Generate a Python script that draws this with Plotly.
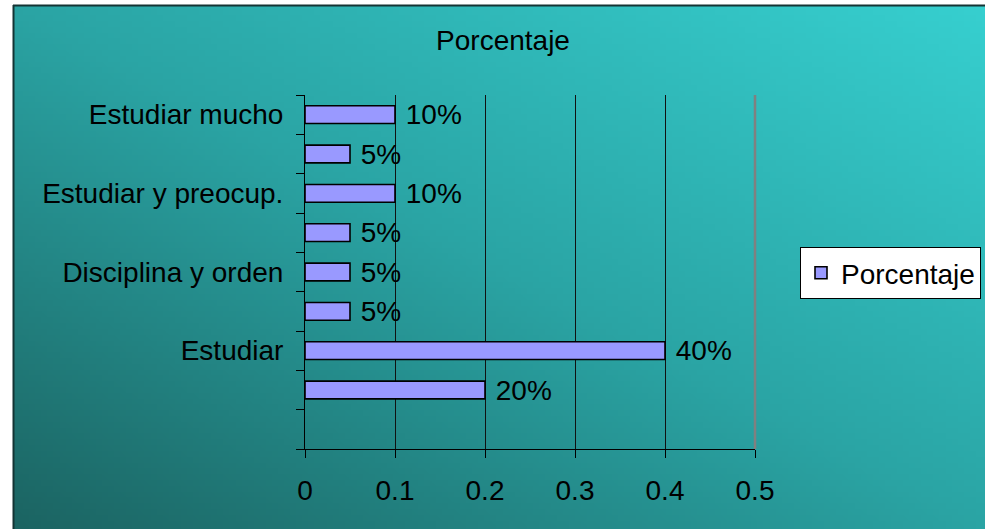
import base64, struct, zlib
import plotly.graph_objects as go

# ---- data (bottom to top) ----
category_ids = ["c0", "c1", "c2", "c3", "c4", "c5", "c6", "c7", "c8"]
category_labels = ["", "", "Estudiar", "", "Disciplina y orden", "", "Estudiar y preocup.", "", "Estudiar mucho"]
values = [None, 0.20, 0.40, 0.05, 0.05, 0.05, 0.10, 0.05, 0.10]
series_name = "Porcentaje"
x_ticks = [0, 0.1, 0.2, 0.3, 0.4, 0.5]
x_ticktext = ["0", "0.1", "0.2", "0.3", "0.4", "0.5"]

W, H = 985, 529
L, R, T, B = 305, 755, 95, 449   # plot area in px

FONT = "Liberation Sans, Arial, sans-serif"
FS = 28


def px_x(px):
    return (px - L) / (R - L)


def px_y(py):
    return (B - py) / (B - T)


# ---- gradient background as a small PNG ----
def lerp(a, b, t):
    return tuple(int(round(a[i] + (b[i] - a[i]) * t)) for i in range(3))


def grad_color(t):
    c0, c1, c2 = (27, 100, 98), (42, 164, 164), (54, 207, 207)
    if t < 0.5:
        return lerp(c0, c1, t / 0.5)
    return lerp(c1, c2, (t - 0.5) / 0.5)


def make_png(w, h):
    rows = []
    for j in range(h):
        row = bytearray([0])
        v = 1 - j / (h - 1)
        for i in range(w):
            u = i / (w - 1)
            row.extend(grad_color((u + v) / 2))
        rows.append(bytes(row))
    raw = b"".join(rows)

    def chunk(tag, data):
        c = struct.pack(">I", len(data)) + tag + data
        return c + struct.pack(">I", zlib.crc32(tag + data) & 0xFFFFFFFF)

    png = b"\x89PNG\r\n\x1a\n"
    png += chunk(b"IHDR", struct.pack(">IIBBBBB", w, h, 8, 2, 0, 0, 0))
    png += chunk(b"IDAT", zlib.compress(raw, 9))
    png += chunk(b"IEND", b"")
    return "data:image/png;base64," + base64.b64encode(png).decode()


bg_src = make_png(160, 90)

fig = go.Figure()
fig.add_trace(go.Bar(
    x=values,
    y=category_ids,
    orientation="h",
    name=series_name,
    marker=dict(color="#9999FF", line=dict(color="black", width=1.6)),
    texttemplate=" %{x:.0%}",
    textposition="outside",
    constraintext="none",
    textfont=dict(family=FONT, size=FS, color="black"),
    cliponaxis=False,
    showlegend=True,
))

fig.update_layout(
    width=W, height=H,
    margin=dict(l=L, r=W - R, t=T, b=H - B, pad=0),
    paper_bgcolor="white",
    plot_bgcolor="#C0C0C0",
    font=dict(family=FONT, size=FS, color="black"),
    bargap=0.55,
    title=dict(text="Porcentaje", x=503 / W, xanchor="center", xref="container",
               y=1 - 40 / H, yanchor="middle", yref="container",
               font=dict(family=FONT, size=FS, color="black")),
    xaxis=dict(range=[0, 0.5], tickvals=x_ticks, ticktext=x_ticktext,
               showgrid=True, gridcolor="#111111", gridwidth=1,
               showline=True, linecolor="black", linewidth=1,
               ticks="outside", ticklen=8, tickcolor="black", tickwidth=1,
               ticklabelstandoff=8, zeroline=False,
               tickfont=dict(family=FONT, size=FS, color="black"), fixedrange=True),
    yaxis=dict(type="category", categoryorder="array", categoryarray=category_ids,
               tickvals=category_ids, ticktext=category_labels,
               range=[-0.5, 8.5], tickson="boundaries",
               showgrid=False, showline=True, linecolor="black", linewidth=1,
               ticks="outside", ticklen=8, tickcolor="black", tickwidth=1,
               ticklabelstandoff=15,
               tickfont=dict(family=FONT, size=FS, color="black"), fixedrange=True),
    legend=dict(xref="container", yref="container", x=800 / W, y=1 - 247 / H,
                xanchor="left", yanchor="top",
                bgcolor="white", bordercolor="black", borderwidth=1,
                font=dict(family=FONT, size=FS, color="black")),
    images=[dict(source=bg_src, xref="paper", yref="paper",
                 x=px_x(14), y=px_y(6), sizex=(W - 14) / (R - L), sizey=(H - 6) / (B - T),
                 xanchor="left", yanchor="top", sizing="stretch", layer="below")],
    shapes=[
        dict(type="line", xref="paper", yref="paper", x0=1, x1=1, y0=0, y1=1,
             line=dict(color="#808080", width=2.5), layer="above"),
        dict(type="line", xref="paper", yref="paper", x0=px_x(13.5), x1=px_x(13.5),
             y0=px_y(5), y1=px_y(H + 2), line=dict(color="#143434", width=2)),
        dict(type="line", xref="paper", yref="paper", x0=px_x(13), x1=px_x(W + 2),
             y0=px_y(5.5), y1=px_y(5.5), line=dict(color="#143434", width=2)),
    ],
)

fig.write_html("out.html", config={"displayModeBar": False},
               post_script="document.body.style.margin='0';document.body.style.overflow='hidden';")
